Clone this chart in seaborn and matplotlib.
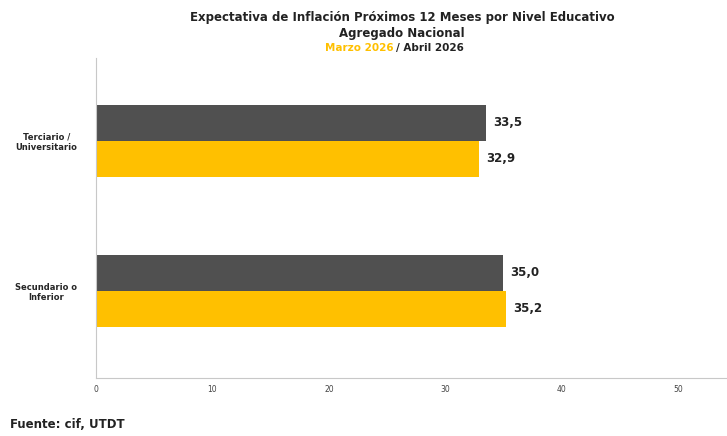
import pandas as pd
import seaborn as sns
import matplotlib.pyplot as plt

categories = ["Terciario /\nUniversitario", "Secundario o\nInferior"]
periods = ["Abril 2026", "Marzo 2026"]
abril = [33.5, 35.0]
marzo = [32.9, 35.2]
xticks = [0, 10, 20, 30, 40, 50]

rows = []
for c, a, m in zip(categories, abril, marzo):
    rows.append({"nivel": c, "periodo": periods[0], "valor": a})
    rows.append({"nivel": c, "periodo": periods[1], "valor": m})
df = pd.DataFrame(rows)

sns.set_style("white")
plt.rcParams['font.family'] = ['DejaVu Sans']

fig = plt.figure(figsize=(7.27, 4.36), dpi=100)
ax = fig.add_axes([96 / 727, 58 / 436, 631 / 727, 320 / 436])

palette = {"Abril 2026": "#505050", "Marzo 2026": "#FFC000"}
sns.barplot(data=df, y="nivel", x="valor", hue="periodo", order=categories,
            hue_order=periods, palette=palette, orient="h", width=0.48,
            saturation=1, legend=False, linewidth=0, ax=ax)

for cont in ax.containers:
    ax.bar_label(cont, labels=[f"{v:.1f}".replace(".", ",") for v in cont.datavalues],
                 padding=5, fontsize=8.5, fontweight="bold", color="#222222")

ax.set_xlim(0, 54.2)
ax.set_ylim(1.58, -0.55)
ax.set_xticks(xticks)
ax.set_xticklabels([str(t) for t in xticks], fontsize=5.5, color="#444444")
ax.tick_params(axis="y", labelsize=6, pad=4, length=0)
ax.tick_params(axis="x", length=2, color="#bbbbbb", pad=3)
for lab in ax.get_yticklabels():
    lab.set_fontweight("bold")
    lab.set_ha("center")
    lab.set_x(-0.07)
ax.set_xlabel("")
ax.set_ylabel("")
for s in ["top", "right"]:
    ax.spines[s].set_visible(False)
for s in ["left", "bottom"]:
    ax.spines[s].set_color("#c8c8c8")
    ax.spines[s].set_linewidth(0.8)

fig.text(402 / 727, 1 - 18 / 436, "Expectativa de Inflación Próximos 12 Meses por Nivel Educativo",
         ha="center", va="center", fontsize=8.5, fontweight="bold", color="#222222")
fig.text(402 / 727, 1 - 33 / 436, "Agregado Nacional",
         ha="center", va="center", fontsize=8.5, fontweight="bold", color="#222222")
fig.text(394 / 727, 1 - 48 / 436, "Marzo 2026", ha="right", va="center",
         fontsize=7.5, fontweight="bold", color="#FFC000")
fig.text(396 / 727, 1 - 48 / 436, "/ Abril 2026", ha="left", va="center",
         fontsize=7.5, fontweight="bold", color="#222222")
fig.text(10 / 727, 1 - 424 / 436, "Fuente: cif, UTDT", ha="left", va="center",
         fontsize=8.5, fontweight="bold", color="#222222")

fig.savefig("out.png", dpi=100)
